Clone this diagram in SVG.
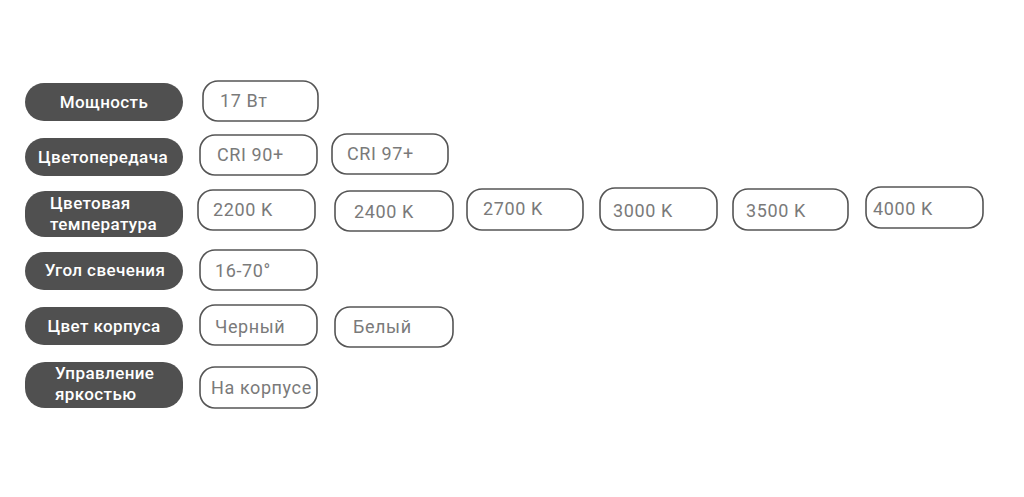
<svg xmlns="http://www.w3.org/2000/svg" width="1024" height="497" viewBox="0 0 1024 497">
<style>
.lbl rect{fill:#505050}
.lbl text{fill:#ffffff;font-family:Roboto,"Liberation Sans",sans-serif;font-size:17px;font-weight:500;letter-spacing:0.4px}
.val rect{fill:#ffffff;stroke:#555555;stroke-width:1.6}
.val text{fill:#7a7a7a;font-family:Roboto,"Liberation Sans",sans-serif;font-size:18px;letter-spacing:0.6px}
</style>
<rect width="1024" height="497" fill="#ffffff"/>
<g id="labels" class="lbl">
<g id="l-power"><rect x="25" y="83" width="158" height="38" rx="19"/><text x="104" y="108" text-anchor="middle">Мощность</text></g>
<g id="l-cri"><rect x="25" y="138" width="158" height="38" rx="19"/><text x="103" y="163" text-anchor="middle">Цветопередача</text></g>
<g id="l-temp"><rect x="25" y="191" width="158" height="46" rx="20"/><text x="50" y="209">Цветовая</text><text x="50" y="230">температура</text></g>
<g id="l-angle"><rect x="25" y="252" width="158" height="38" rx="19"/><text x="105" y="276" text-anchor="middle">Угол свечения</text></g>
<g id="l-color"><rect x="25" y="307" width="158" height="38" rx="19"/><text x="104" y="332" text-anchor="middle">Цвет корпуса</text></g>
<g id="l-ctrl"><rect x="25" y="362" width="158" height="46" rx="20"/><text x="55" y="379">Управление</text><text x="55" y="400">яркостью</text></g>
</g>
<g id="values" class="val">
<g id="v-17w"><rect x="203" y="81" width="115" height="40" rx="15"/><text x="220" y="107">17 Вт</text></g>
<g id="v-cri90"><rect x="200" y="135" width="117" height="40" rx="15"/><text x="217" y="161">CRI 90+</text></g>
<g id="v-cri97"><rect x="332" y="134" width="116" height="40" rx="15"/><text x="347" y="160">CRI 97+</text></g>
<g id="v-2200"><rect x="198" y="190" width="117" height="40" rx="15"/><text x="213" y="216">2200 K</text></g>
<g id="v-2400"><rect x="335" y="191" width="118" height="40" rx="15"/><text x="354" y="218">2400 K</text></g>
<g id="v-2700"><rect x="467" y="189" width="116" height="41" rx="15"/><text x="483" y="215">2700 K</text></g>
<g id="v-3000"><rect x="600" y="188" width="117" height="42" rx="15"/><text x="613" y="217">3000 K</text></g>
<g id="v-3500"><rect x="733" y="189" width="115" height="41" rx="15"/><text x="746" y="217">3500 K</text></g>
<g id="v-4000"><rect x="866" y="187" width="117" height="41" rx="15"/><text x="873" y="215">4000 K</text></g>
<g id="v-angle"><rect x="200" y="250" width="117" height="40" rx="15"/><text x="215" y="277">16-70°</text></g>
<g id="v-black"><rect x="200" y="305" width="117" height="40" rx="15"/><text x="215" y="333">Черный</text></g>
<g id="v-white"><rect x="335" y="307" width="118" height="40" rx="15"/><text x="353" y="333">Белый</text></g>
<g id="v-body"><rect x="200" y="367" width="117" height="41" rx="15"/><text x="211" y="394">На корпусе</text></g>
</g>
<g id="connectors"/>
</svg>
